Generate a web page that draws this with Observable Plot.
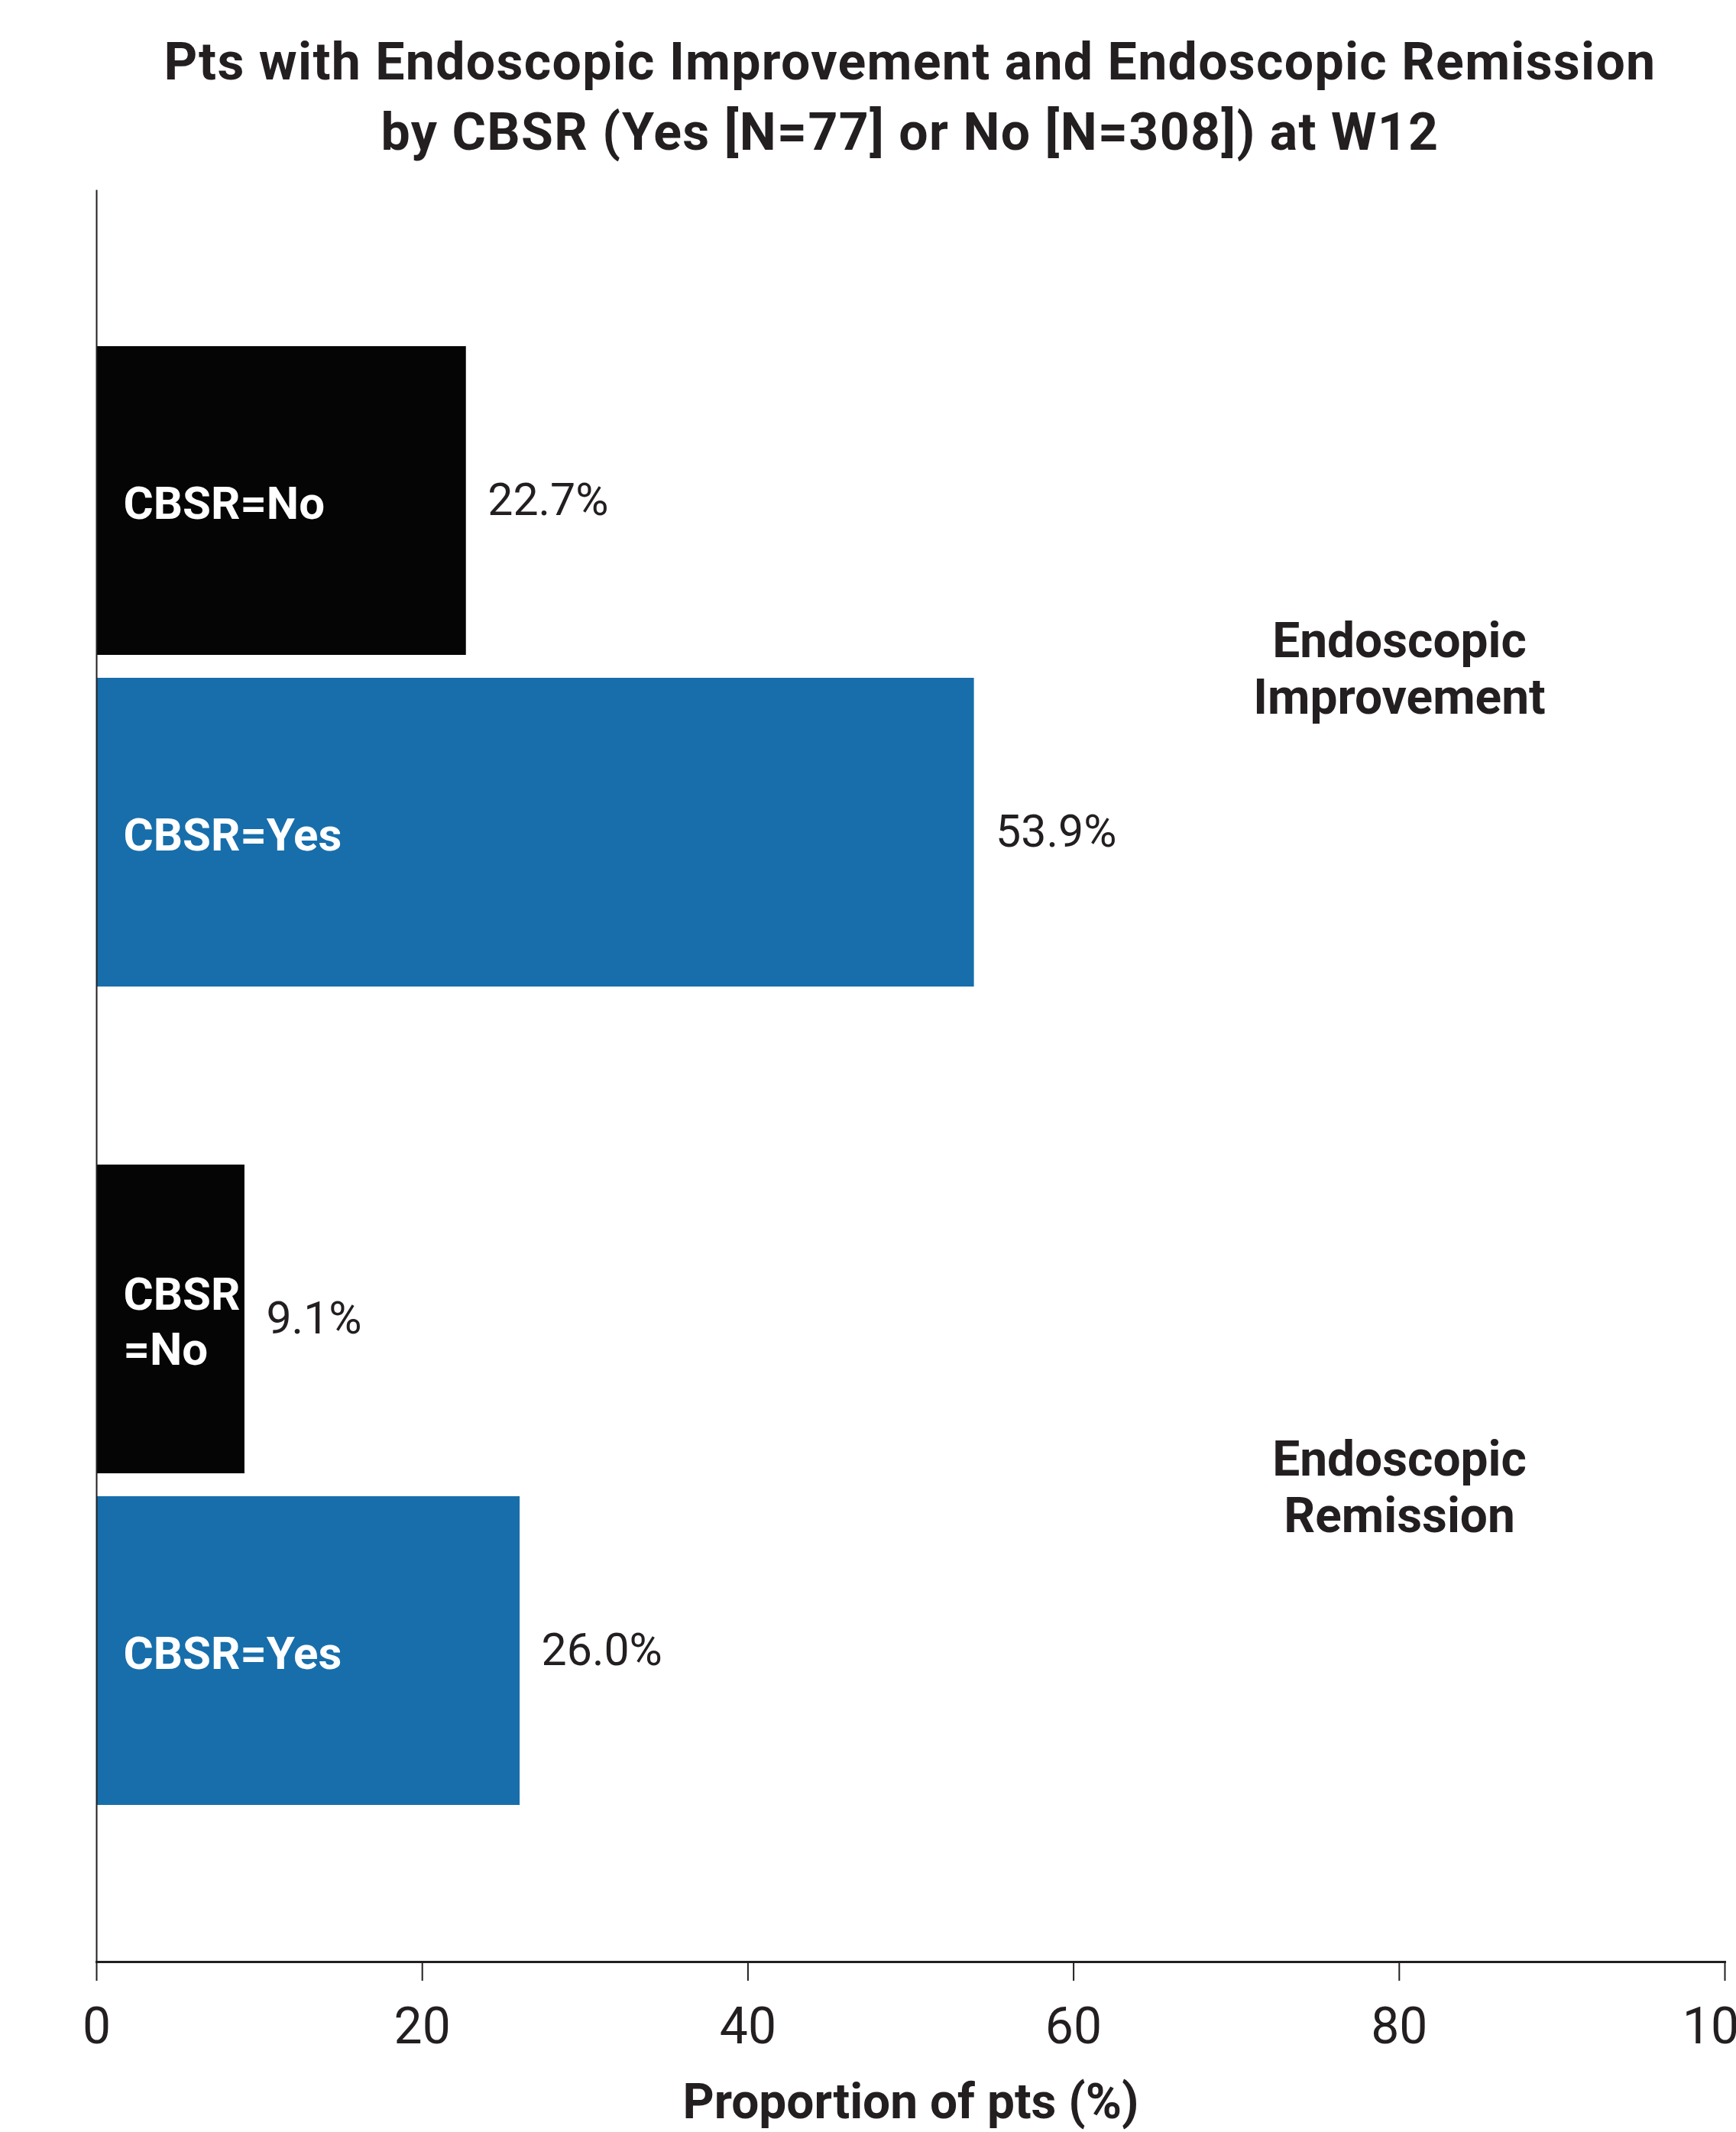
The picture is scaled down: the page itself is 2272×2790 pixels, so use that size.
<!DOCTYPE html>
<html>
<head>
<meta charset="utf-8">
<script src="https://cdn.jsdelivr.net/npm/d3@7"></script>
<script src="https://cdn.jsdelivr.net/npm/@observablehq/plot@0.6"></script>
<style>
html, body { margin: 0; padding: 0; background: #fff; overflow: hidden; }
#title {
  box-sizing: border-box; width: 2272px; height: 221px;
  padding-top: 35px; padding-left: 110px;
  text-align: center; font-family: Roboto, "Liberation Sans", sans-serif;
  font-weight: bold; font-size: 68px; letter-spacing: 1.3px; line-height: 92px; color: #231f20;
}
</style>
</head>
<body>
<div id="title">Pts with Endoscopic Improvement and Endoscopic Remission<br>by CBSR (Yes [N=77] or No [N=308]) at W12</div>
<div id="chart"></div>
<script>
// ---- data ----
const groups = ["Endoscopic Improvement", "Endoscopic Improvement", "Endoscopic Remission", "Endoscopic Remission"];
const cbsr = ["No", "Yes", "No", "Yes"];
const values = [22.7, 53.9, 9.1, 26.0];
const barLabels = ["CBSR=No", "CBSR=Yes", "CBSR\n=No", "CBSR=Yes"];
const groupOrder = ["Endoscopic Improvement", "Endoscopic Remission"];
const groupLabels = ["Endoscopic\nImprovement", "Endoscopic\nRemission"];
const cbsrOrder = ["No", "Yes"];
const cbsrColors = ["#050505", "#176EAB"];
const xTicks = [0, 20, 40, 60, 80, 100];
const xLabel = "Proportion of pts (%)";

const data = values.map((v, i) => ({group: groups[i], cbsr: cbsr[i], value: v, label: barLabels[i]}));
const ink = "#231f20";

// layout
const W = 2272, H = 2569;
const mTop = 28, mBottom = 222, mLeft = 126, mRight = 15;
const fyPadInner = 0.2166, fyPadOuter = 0.1905;
const frameH = H - mTop - mBottom;
const fyStep = frameH / (groupOrder.length - fyPadInner + 2 * fyPadOuter);
const outerGap = fyPadOuter * fyStep; // space between facets and the frame edges

const chart = Plot.plot({
  width: W,
  height: H,
  marginTop: mTop,
  marginBottom: mBottom,
  marginLeft: mLeft,
  marginRight: mRight,
  style: {fontFamily: "Roboto, 'Liberation Sans', sans-serif", fontSize: "58px", color: ink, background: "#fff"},
  x: {domain: [0, 100], axis: null},
  y: {domain: cbsrOrder, paddingInner: 0.069, paddingOuter: 0, axis: null},
  fy: {domain: groupOrder, paddingInner: fyPadInner, paddingOuter: fyPadOuter, axis: null},
  color: {domain: cbsrOrder, range: cbsrColors},
  marks: [
    Plot.barX(data, {x: "value", y: "cbsr", fy: "group", fill: "cbsr"}),
    Plot.text(data, {
      y: "cbsr", fy: "group", frameAnchor: "left", text: "label",
      dx: 35, textAnchor: "start", fill: "white", fontWeight: "bold", fontSize: 60, lineHeight: 1.2
    }),
    Plot.text(data, {
      x: "value", y: "cbsr", fy: "group",
      text: d => d3.format(".1f")(d.value) + "%",
      dx: 28, textAnchor: "start", fill: ink, fontSize: 59
    }),
    Plot.text(groupOrder, {
      fy: d => d, text: (d, i) => groupLabels[i],
      frameAnchor: "right", dx: -426, textAnchor: "middle",
      fontWeight: "bold", fontSize: 64, lineHeight: 1.17, fill: ink
    }),
    Plot.frame({anchor: "left", facet: "super", insetTop: -outerGap, insetBottom: -outerGap, stroke: ink, strokeWidth: 2}),
    Plot.frame({anchor: "bottom", facet: "super", insetBottom: -outerGap, stroke: ink, strokeWidth: 3}),
    Plot.axisX(xTicks, {tickSize: 25, tickPadding: 35, dy: outerGap, fontSize: 66, strokeWidth: 2, stroke: ink, fill: ink, label: null}),
    Plot.text([xLabel], {
      facet: "super", text: d => d, frameAnchor: "bottom", dy: 204 + outerGap,
      fontWeight: "bold", fontSize: 64, letterSpacing: "2px", fill: ink
    })
  ]
});
document.getElementById("chart").appendChild(chart);
</script>
</body>
</html>
